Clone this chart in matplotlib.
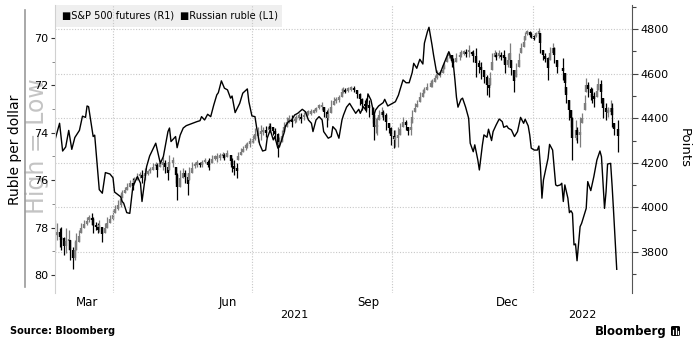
import matplotlib
matplotlib.use('Agg')
import matplotlib.pyplot as plt
import pandas as pd
from matplotlib.patches import Rectangle, FancyBboxPatch
from matplotlib.lines import Line2D

# Russian ruble, rubles per US dollar (left axis, inverted)
ruble_dates = [
    '2021-02-22', '2021-02-25', '2021-02-27', '2021-03-01', '2021-03-03', '2021-03-05', '2021-03-07',
    '2021-03-10', '2021-03-12', '2021-03-14', '2021-03-15', '2021-03-16', '2021-03-19', '2021-03-20',
    '2021-03-23', '2021-03-25', '2021-03-27', '2021-03-30', '2021-04-01', '2021-04-02', '2021-04-06',
    '2021-04-07', '2021-04-08', '2021-04-10', '2021-04-12', '2021-04-14', '2021-04-17', '2021-04-19',
    '2021-04-20', '2021-04-23', '2021-04-25', '2021-04-29', '2021-04-30', '2021-05-02', '2021-05-04',
    '2021-05-07', '2021-05-08', '2021-05-09', '2021-05-12', '2021-05-13', '2021-05-15', '2021-05-17',
    '2021-05-19', '2021-05-23', '2021-05-26', '2021-05-28', '2021-05-29', '2021-05-31', '2021-06-02',
    '2021-06-04', '2021-06-06', '2021-06-08', '2021-06-09', '2021-06-11', '2021-06-13', '2021-06-15',
    '2021-06-17', '2021-06-18', '2021-06-20', '2021-06-23', '2021-06-25', '2021-06-28', '2021-06-29',
    '2021-07-01', '2021-07-03', '2021-07-04', '2021-07-06', '2021-07-08', '2021-07-10', '2021-07-11',
    '2021-07-13', '2021-07-15', '2021-07-16', '2021-07-18', '2021-07-19', '2021-07-22', '2021-07-23',
    '2021-07-25', '2021-07-27', '2021-07-29', '2021-07-31', '2021-08-03', '2021-08-05', '2021-08-07',
    '2021-08-09', '2021-08-10', '2021-08-12', '2021-08-14', '2021-08-16', '2021-08-17', '2021-08-20',
    '2021-08-22', '2021-08-23', '2021-08-25', '2021-08-27', '2021-08-29', '2021-08-30', '2021-09-01',
    '2021-09-03', '2021-09-05', '2021-09-07', '2021-09-09', '2021-09-10', '2021-09-12', '2021-09-14',
    '2021-09-15', '2021-09-17', '2021-09-19', '2021-09-20', '2021-09-22', '2021-09-25', '2021-09-26',
    '2021-09-28', '2021-10-01', '2021-10-03', '2021-10-05', '2021-10-06', '2021-10-08', '2021-10-10',
    '2021-10-12', '2021-10-14', '2021-10-15', '2021-10-17', '2021-10-19', '2021-10-21', '2021-10-22',
    '2021-10-24', '2021-10-25', '2021-10-27', '2021-10-28', '2021-10-30', '2021-11-01', '2021-11-03',
    '2021-11-05', '2021-11-07', '2021-11-08', '2021-11-10', '2021-11-11', '2021-11-12', '2021-11-13',
    '2021-11-15', '2021-11-16', '2021-11-18', '2021-11-20', '2021-11-21', '2021-11-23', '2021-11-24',
    '2021-11-26', '2021-11-27', '2021-11-29', '2021-11-30', '2021-12-02', '2021-12-03', '2021-12-05',
    '2021-12-06', '2021-12-08', '2021-12-10', '2021-12-12', '2021-12-13', '2021-12-15', '2021-12-16',
    '2021-12-18', '2021-12-20', '2021-12-22', '2021-12-24', '2021-12-26', '2021-12-27', '2021-12-29',
    '2021-12-30', '2021-12-31', '2022-01-02', '2022-01-04', '2022-01-05', '2022-01-06', '2022-01-07',
    '2022-01-08', '2022-01-11', '2022-01-12', '2022-01-14', '2022-01-16', '2022-01-17', '2022-01-19',
    '2022-01-20', '2022-01-21', '2022-01-22', '2022-01-24', '2022-01-25', '2022-01-26', '2022-01-27',
    '2022-01-28', '2022-01-29', '2022-01-30', '2022-02-01', '2022-02-02', '2022-02-05', '2022-02-06',
    '2022-02-08', '2022-02-10', '2022-02-12', '2022-02-14', '2022-02-15', '2022-02-17', '2022-02-18',
    '2022-02-19', '2022-02-21', '2022-02-22', '2022-02-23', '2022-02-25',
]
ruble = [
    74.30, 73.60, 74.77, 74.60, 73.90, 74.70, 74.20, 73.90, 73.30, 73.35, 72.87, 72.90, 74.16, 74.10,
    76.40, 76.55, 75.68, 75.74, 75.90, 76.50, 76.70, 76.90, 76.97, 77.37, 77.40, 76.27, 75.85, 76.13,
    76.90, 75.43, 74.98, 74.44, 74.73, 75.29, 75.00, 73.95, 73.80, 74.37, 74.16, 74.63, 74.10, 73.80,
    73.70, 73.60, 73.53, 73.49, 73.32, 73.46, 73.22, 73.32, 72.83, 72.40, 72.31, 71.81, 72.12, 72.19,
    72.54, 72.45, 73.15, 72.76, 72.33, 72.15, 72.69, 73.29, 73.32, 73.74, 74.47, 74.77, 74.73, 74.23,
    73.88, 74.30, 74.16, 74.65, 74.59, 74.02, 73.71, 73.53, 73.46, 73.25, 73.18, 73.01, 73.11, 73.46,
    73.60, 73.95, 73.46, 73.32, 73.46, 73.95, 74.23, 74.16, 73.74, 73.88, 74.23, 73.46, 73.25, 72.92,
    72.76, 72.97, 73.18, 73.01, 73.18, 72.90, 73.07, 72.36, 72.62, 73.25, 73.04, 72.87, 72.73, 72.59,
    72.87, 72.76, 72.69, 72.41, 72.19, 71.77, 71.89, 71.89, 71.46, 71.07, 71.28, 70.90, 71.10, 70.22,
    69.73, 69.55, 70.30, 70.72, 71.46, 71.56, 71.21, 70.90, 70.58, 70.76, 71.14, 71.77, 72.50, 72.92,
    72.59, 72.54, 72.92, 73.39, 74.44, 74.80, 74.51, 75.15, 75.57, 74.51, 74.09, 74.19, 73.85, 74.33,
    73.95, 73.67, 73.42, 73.53, 73.77, 73.71, 73.81, 73.88, 74.16, 73.95, 73.35, 73.60, 73.43, 73.71,
    74.09, 74.65, 74.73, 74.73, 74.56, 75.43, 76.76, 75.99, 75.08, 74.49, 74.73, 76.20, 76.24, 76.20,
    76.13, 76.90, 76.20, 76.76, 77.37, 77.29, 77.40, 78.73, 78.69, 79.40, 77.96, 77.82, 77.19, 76.06,
    76.44, 75.85, 75.15, 74.77, 75.01, 77.19, 76.49, 75.32, 75.29, 76.27, 77.40, 79.76,
]

# S&P 500 futures bars (right axis): date, high, low
sp_dates = [
    '2021-02-22', '2021-02-23', '2021-02-25', '2021-02-26', '2021-02-28', '2021-03-01', '2021-03-03',
    '2021-03-04', '2021-03-06', '2021-03-07', '2021-03-08', '2021-03-10', '2021-03-11', '2021-03-13',
    '2021-03-15', '2021-03-16', '2021-03-18', '2021-03-19', '2021-03-21', '2021-03-22', '2021-03-23',
    '2021-03-25', '2021-03-27', '2021-03-28', '2021-03-30', '2021-04-01', '2021-04-02', '2021-04-04',
    '2021-04-06', '2021-04-07', '2021-04-09', '2021-04-10', '2021-04-12', '2021-04-14', '2021-04-15',
    '2021-04-17', '2021-04-19', '2021-04-20', '2021-04-22', '2021-04-24', '2021-04-25', '2021-04-27',
    '2021-04-29', '2021-04-30', '2021-05-02', '2021-05-04', '2021-05-05', '2021-05-07', '2021-05-08',
    '2021-05-10', '2021-05-12', '2021-05-13', '2021-05-15', '2021-05-17', '2021-05-18', '2021-05-20',
    '2021-05-21', '2021-05-23', '2021-05-25', '2021-05-26', '2021-05-28',
    '2021-05-29', '2021-05-31', '2021-06-02', '2021-06-03', '2021-06-05', '2021-06-07', '2021-06-08',
    '2021-06-10', '2021-06-12', '2021-06-13', '2021-06-15', '2021-06-17', '2021-06-18', '2021-06-19',
    '2021-06-21', '2021-06-22', '2021-06-24', '2021-06-25', '2021-06-27', '2021-06-28', '2021-06-30',
    '2021-07-02', '2021-07-03', '2021-07-05', '2021-07-07', '2021-07-08', '2021-07-10', '2021-07-12',
    '2021-07-13', '2021-07-15', '2021-07-16', '2021-07-18', '2021-07-19', '2021-07-21', '2021-07-22',
    '2021-07-24', '2021-07-25', '2021-07-27', '2021-07-29', '2021-07-30', '2021-08-01', '2021-08-02',
    '2021-08-04', '2021-08-06', '2021-08-07', '2021-08-09', '2021-08-11', '2021-08-12', '2021-08-14',
    '2021-08-16', '2021-08-17', '2021-08-19', '2021-08-20', '2021-08-22', '2021-08-24', '2021-08-25',
    '2021-08-27', '2021-08-29', '2021-08-30',
    '2021-08-31', '2021-09-02', '2021-09-04', '2021-09-06', '2021-09-08', '2021-09-10', '2021-09-11',
    '2021-09-13', '2021-09-14', '2021-09-16', '2021-09-18', '2021-09-19', '2021-09-20', '2021-09-21',
    '2021-09-22', '2021-09-24', '2021-09-25', '2021-09-27', '2021-09-29', '2021-09-30', '2021-10-02',
    '2021-10-03', '2021-10-05', '2021-10-06', '2021-10-08', '2021-10-10', '2021-10-11', '2021-10-13',
    '2021-10-14', '2021-10-16', '2021-10-17', '2021-10-19', '2021-10-21', '2021-10-22', '2021-10-24',
    '2021-10-26', '2021-10-27', '2021-10-29', '2021-10-30', '2021-11-01', '2021-11-03', '2021-11-04',
    '2021-11-06', '2021-11-07', '2021-11-09', '2021-11-10', '2021-11-12', '2021-11-14', '2021-11-15',
    '2021-11-17', '2021-11-18', '2021-11-20', '2021-11-22', '2021-11-23', '2021-11-25', '2021-11-27',
    '2021-11-28', '2021-11-30', '2021-12-02', '2021-12-03',
    '2021-12-04', '2021-12-05', '2021-12-07', '2021-12-08', '2021-12-10', '2021-12-11', '2021-12-13',
    '2021-12-14', '2021-12-16', '2021-12-17', '2021-12-18', '2021-12-20', '2021-12-21', '2021-12-23',
    '2021-12-24', '2021-12-26', '2021-12-27', '2021-12-28', '2021-12-30', '2021-12-31', '2022-01-02',
    '2022-01-03', '2022-01-05', '2022-01-06', '2022-01-08', '2022-01-09', '2022-01-11', '2022-01-12',
    '2022-01-14', '2022-01-15', '2022-01-17', '2022-01-21', '2022-01-22', '2022-01-23', '2022-01-25',
    '2022-01-26', '2022-01-27', '2022-01-29', '2022-01-30', '2022-02-01', '2022-02-02', '2022-02-04',
    '2022-02-05', '2022-02-06', '2022-02-08', '2022-02-09', '2022-02-10', '2022-02-12', '2022-02-13',
    '2022-02-15', '2022-02-16', '2022-02-18', '2022-02-19', '2022-02-21', '2022-02-22', '2022-02-23',
    '2022-02-26',
]
sp_high = [
    3943, 3928, 3906, 3913, 3869, 3906, 3898, 3854, 3824, 3854, 3884, 3898, 3928, 3943, 3958, 3966,
    3976, 3958, 3936, 3928, 3943, 3913, 3928, 3958, 3966, 3988, 4011, 4033, 4070, 4078, 4093, 4108,
    4123, 4130, 4138, 4153, 4160, 4168, 4175, 4168, 4183, 4197, 4205, 4197, 4212, 4227, 4212, 4183,
    4235, 4227, 4183, 4153, 4168, 4175, 4168, 4153, 4183, 4205, 4205, 4212, 4205,
    4212, 4220, 4212, 4220, 4235, 4235, 4242, 4242, 4250, 4242, 4257, 4235, 4220, 4212, 4197, 4250,
    4265, 4275, 4287, 4295, 4310, 4324, 4354, 4362, 4369, 4362, 4365, 4377, 4377, 4362, 4354, 4332,
    4317, 4347, 4384, 4407, 4414, 4414, 4407, 4414, 4422, 4425, 4429, 4434, 4437, 4440, 4440, 4452,
    4464, 4474, 4452, 4437, 4444, 4482, 4497, 4497, 4504, 4534, 4541,
    4534, 4541, 4544, 4544, 4526, 4511, 4489, 4482, 4489, 4482, 4452, 4422, 4399, 4407, 4437, 4452,
    4437, 4422, 4377, 4362, 4347, 4347, 4362, 4377, 4407, 4392, 4362, 4384, 4437, 4467, 4482, 4519,
    4530, 4541, 4556, 4571, 4578, 4593, 4616, 4616, 4631, 4653, 4691, 4698, 4683, 4668, 4691, 4698,
    4706, 4706, 4709, 4728, 4703, 4706, 4713, 4661, 4653, 4616, 4593, 4571,
    4608, 4691, 4706, 4698, 4706, 4698, 4706, 4676, 4691, 4736, 4661, 4616, 4646, 4691, 4736, 4766,
    4788, 4796, 4793, 4788, 4773, 4788, 4803, 4781, 4706, 4691, 4676, 4721, 4736, 4721, 4661, 4668,
    4601, 4541, 4482, 4437, 4407, 4392, 4362, 4407, 4422, 4504, 4579, 4564, 4541, 4534, 4519, 4549,
    4579, 4571, 4489, 4467, 4452, 4481, 4467, 4377, 4392,
]
sp_low = [
    3809, 3854, 3824, 3809, 3786, 3794, 3809, 3764, 3722, 3764, 3809, 3846, 3884, 3906, 3921, 3936,
    3921, 3884, 3898, 3884, 3891, 3846, 3884, 3906, 3928, 3943, 3973, 3988, 4003, 4040, 4063, 4078,
    4093, 4078, 4108, 4123, 4130, 4108, 4123, 4145, 4153, 4168, 4175, 4138, 4183, 4168, 4153, 4123,
    4168, 4183, 4108, 4033, 4093, 4130, 4108, 4055, 4123, 4153, 4175, 4183, 4183,
    4183, 4197, 4183, 4168, 4197, 4212, 4205, 4212, 4220, 4212, 4227, 4183, 4160, 4145, 4130, 4212,
    4235, 4250, 4257, 4265, 4272, 4287, 4302, 4295, 4302, 4324, 4317, 4347, 4340, 4324, 4302, 4227,
    4272, 4295, 4340, 4362, 4377, 4362, 4377, 4384, 4392, 4377, 4392, 4407, 4414, 4414, 4422, 4429,
    4440, 4437, 4407, 4362, 4392, 4422, 4459, 4467, 4474, 4497, 4511,
    4511, 4519, 4523, 4519, 4489, 4459, 4437, 4437, 4429, 4407, 4377, 4302, 4332, 4324, 4392, 4407,
    4392, 4347, 4332, 4280, 4265, 4272, 4272, 4324, 4362, 4347, 4324, 4324, 4377, 4429, 4449, 4474,
    4497, 4514, 4526, 4541, 4541, 4564, 4578, 4586, 4601, 4623, 4653, 4668, 4631, 4638, 4653, 4661,
    4676, 4683, 4676, 4676, 4683, 4653, 4586, 4601, 4578, 4556, 4504, 4497,
    4549, 4616, 4676, 4661, 4668, 4661, 4646, 4601, 4631, 4646, 4594, 4519, 4586, 4631, 4691, 4721,
    4751, 4773, 4766, 4758, 4751, 4766, 4766, 4691, 4661, 4653, 4571, 4661, 4691, 4646, 4601, 4571,
    4519, 4467, 4392, 4362, 4212, 4302, 4287, 4272, 4377, 4437, 4519, 4497, 4481, 4467, 4452, 4497,
    4526, 4467, 4400, 4392, 4407, 4414, 4362, 4325, 4250,
]

ruble_ticks = [70, 72, 74, 76, 78, 80]
ruble_minor = [71, 73, 75, 77, 79]
sp_ticks = [3800, 4000, 4200, 4400, 4600, 4800]
sp_minor = [3700, 3900, 4100, 4300, 4500, 4700, 4900]
quarter_starts = ['2021-04-01', '2021-07-01', '2021-10-01', '2022-01-01']
month_mids = ['2021-03-15', '2021-06-15', '2021-09-15', '2021-12-15']
month_labels = ['Mar', 'Jun', 'Sep', 'Dec']
x_start, x_end = '2021-02-22', '2022-03-07'

W, H = 700, 353
fig = plt.figure(figsize=(W / 100, H / 100), dpi=100)
ax = fig.add_axes([55 / W, 1 - 293 / H, (632 - 55) / W, 288 / H])
ax2 = ax.twinx()
ax.set_zorder(ax2.get_zorder() + 1)
ax.patch.set_visible(False)

grid_kw = dict(color='#c8c8c8', linestyle=(0, (1, 1.5)), linewidth=0.8)

# S&P candles: the body runs from the previous bar's midpoint to this bar's midpoint,
# gray when the bar moved up, black when it moved down
d_sp = pd.to_datetime(sp_dates)
mids = [(h + l) / 2 for h, l in zip(sp_high, sp_low)]
opens = [mids[0]] + mids[:-1]
colors = ['#7d7d7d' if m >= o else 'black' for m, o in zip(mids, opens)]
body_lo, body_hi = [], []
for o, m, h, l in zip(opens, mids, sp_high, sp_low):
    a, b = max(min(o, m), l), min(max(o, m), h)
    if b - a < 12:
        a, b = max(m - 6, l), min(m + 6, h)
    body_lo.append(a)
    body_hi.append(b)
ax2.vlines(d_sp, sp_low, sp_high, colors=colors, linewidth=0.9)
ax2.vlines(d_sp, body_lo, body_hi, colors=colors, linewidth=1.7)
ax2.set_ylim(3616, 4908)
ax2.set_yticks(sp_ticks)
ax2.set_yticks(sp_minor, minor=True)
ax2.yaxis.grid(True, **grid_kw)
ax2.tick_params(axis='y', which='major', direction='out', length=4, width=0.8,
                color='#444444', labelsize=8, pad=2)
ax2.tick_params(axis='y', which='minor', direction='out', length=3, width=0.8, color='#444444')
for s in ['top', 'bottom', 'left']:
    ax2.spines[s].set_visible(False)
ax2.spines['right'].set_color('#555555')

# ruble line
ax.plot(pd.to_datetime(ruble_dates), ruble, color='black', linewidth=1.0)
ax.set_ylim(80.76, 68.61)
ax.set_yticks(ruble_ticks)
ax.set_yticks(ruble_minor, minor=True)
ax.tick_params(axis='y', which='major', direction='out', length=3, width=0.8,
               color='#333333', labelsize=8, pad=2)
ax.tick_params(axis='y', which='minor', direction='out', length=2, width=0.6, color='#777777')
for s in ['top', 'bottom', 'right']:
    ax.spines[s].set_visible(False)
ax.spines['left'].set_color('#d0d0d0')

ax.set_xlim(pd.Timestamp(x_start), pd.Timestamp(x_end))
ax.set_xticks(pd.to_datetime(quarter_starts))
ax.set_xticklabels([])
ax.set_xticks(pd.to_datetime(month_mids), minor=True)
ax.set_xticklabels(month_labels, minor=True)
ax.tick_params(axis='x', which='major', length=0)
ax.tick_params(axis='x', which='minor', length=0, labelsize=8.5, pad=2)
ax.xaxis.grid(True, which='major', **grid_kw)

# year labels centred on the visible part of each year
xs, xe = pd.Timestamp(x_start), pd.Timestamp(x_end)
for yr in ['2021', '2022']:
    a = max(xs, pd.Timestamp(yr + '-01-01'))
    b = min(xe, pd.Timestamp(str(int(yr) + 1) + '-01-01'))
    ax.text(a + (b - a) / 2, -0.076, yr, transform=ax.get_xaxis_transform(),
            ha='center', va='center', fontsize=8)

# legend box
fig.add_artist(Rectangle((55 / W, 1 - 27 / H), 227 / W, 22 / H, transform=fig.transFigure,
                         facecolor='#efefef', edgecolor='none'))
fig.text(62 / W, 1 - 16 / H, '\u25a0S&P 500 futures (R1)', fontsize=7, va='center')
fig.text(180 / W, 1 - 16 / H, '\u25a0Russian ruble (L1)', fontsize=7, va='center')

# axis titles ("High = Low" sits behind the left tick labels, as in the original)
fig.text(15 / W, 1 - 150 / H, 'Ruble per dollar', rotation=90, fontsize=10, ha='center', va='center')
fig.text(37 / W, 1 - 146 / H, 'High = Low', rotation=90, fontsize=17, color='#c4c4c4',
         ha='center', va='center', zorder=-1)
fig.add_artist(Line2D([25 / W, 25 / W], [1 - 10 / H, 1 - 287 / H], color='#9a9a9a', linewidth=1.2))
fig.text(684 / W, 1 - 148 / H, 'Points', rotation=270, fontsize=9.5, ha='center', va='center')

# footer
fig.text(10 / W, 1 - 331 / H, 'Source: Bloomberg', fontsize=7, fontweight='bold', va='center')
fig.text(667 / W, 1 - 331 / H, 'Bloomberg', fontsize=8.5, fontweight='bold', ha='right', va='center')
fig.add_artist(FancyBboxPatch((671 / W, 1 - 336 / H), 9 / W, 10 / H, transform=fig.transFigure,
                              boxstyle='round,pad=0,rounding_size=0.003', facecolor='black',
                              edgecolor='none'))
for i, hgt in enumerate([4, 6, 3]):
    x = (673 + i * 2.5) / W
    fig.add_artist(Line2D([x, x], [1 - 334 / H, 1 - (334 - hgt) / H], color='white', linewidth=0.9))

fig.savefig('out.png', dpi=100)
